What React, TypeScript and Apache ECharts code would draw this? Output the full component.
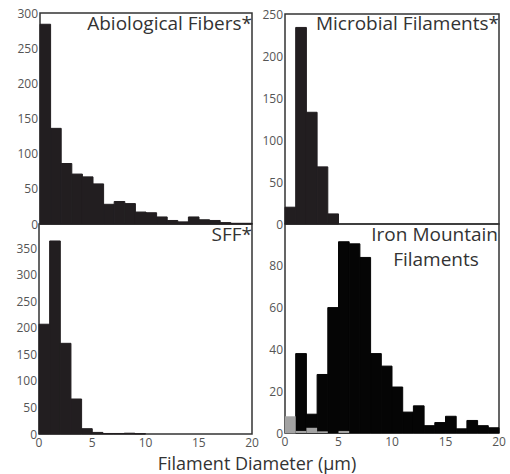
import React, { useEffect, useRef } from "react";
import * as echarts from "echarts";

const binEdges = [0, 1, 2, 3, 4, 5, 6, 7, 8, 9, 10, 11, 12, 13, 14, 15, 16, 17, 18, 19, 20];
const xTicks = [0, 5, 10, 15, 20];

const abiological = [284, 136, 86, 71, 67, 57, 28, 32, 29, 17, 16, 10, 5, 3, 10, 6, 5, 2, 1, 1];
const microbial = [20, 234, 133, 68, 12, 0, 0, 0, 0, 0, 0, 0, 0, 0, 0, 0, 0, 0, 0, 0];
const sff = [207, 364, 171, 66, 10, 3, 1, 1, 1.5, 0.5, 0, 0, 0, 0, 0, 0, 0, 0, 0, 0];
const ironBlack = [0, 38, 9, 28, 60, 91.5, 90.5, 84, 38, 32, 22, 10, 13, 3.5, 5, 8, 2, 6, 3.5, 2.5];
const ironGray = [8, 1, 2.5, 0.8, 0, 1, 0, 0, 0, 0, 0, 0, 0, 0, 0, 0, 0, 0, 0, 0];

const panelTitles = ["Abiological Fibers*", "Microbial Filaments*", "SFF*", "Iron Mountain", "Filaments"];
const xTitle = "Filament Diameter (µm)";

const FONT = "'Open Sans', 'Noto Sans', sans-serif";

function toBins(values: number[]) {
  return values.map((v, i) => [binEdges[i], binEdges[i + 1], v]);
}

function histSeries(idx: number, values: number[], color: string, inset = 0, stroke = true) {
  return {
    type: "custom",
    xAxisIndex: idx,
    yAxisIndex: idx,
    data: toBins(values),
    encode: { x: [0, 1], y: 2 },
    renderItem: (params: any, api: any) => {
      const v = api.value(2);
      if (!v) return null;
      const p0 = api.coord([api.value(0), v]);
      const p1 = api.coord([api.value(1), 0]);
      return {
        type: "rect",
        shape: { x: p0[0] + inset, y: p0[1], width: p1[0] - p0[0] - inset * 2, height: p1[1] - p0[1] },
        style: stroke ? { fill: color, stroke: color, lineWidth: 1 } : { fill: color },
      };
    },
  };
}

export default function App() {
  const ref = useRef<HTMLDivElement>(null);
  useEffect(() => {
    if (!ref.current) return;
    const chart = echarts.init(ref.current, null, { renderer: "svg" });
    const grids = [
      { left: 40, top: 13, width: 212, height: 211 },
      { left: 285, top: 14, width: 214, height: 210 },
      { left: 39, top: 224, width: 213, height: 210 },
      { left: 285, top: 224, width: 214, height: 209 },
    ].map((g) => ({ ...g, show: true, borderColor: "#333", borderWidth: 1.5, backgroundColor: "transparent" }));
    const yMax = [300, 250, 396, 100];
    const yInt = [50, 50, 50, 20];
    const xAxis = grids.map((_, i) => ({
      type: "value",
      gridIndex: i,
      min: xTicks[0],
      max: xTicks[xTicks.length - 1],
      interval: 5,
      axisLine: { show: false },
      axisTick: { show: false },
      splitLine: { show: false },
      axisLabel: { show: i >= 2, color: "#555", fontSize: 12, fontFamily: FONT, margin: 2 },
    }));
    const yAxis = grids.map((_, i) => ({
      type: "value",
      gridIndex: i,
      min: 0,
      max: yMax[i],
      interval: yInt[i],
      axisLine: { show: false },
      axisTick: { show: false },
      splitLine: { show: false },
      axisLabel: {
        color: "#555",
        fontSize: 12,
        fontFamily: FONT,
        margin: 2,
        showMaxLabel: i < 2,
      },
    }));
    const titleStyle = { fill: "#333", fontSize: 19, fontFamily: FONT };
    chart.setOption({
      animation: false,
      grid: grids,
      xAxis,
      yAxis,
      series: [
        histSeries(0, abiological, "#221e20"),
        histSeries(1, microbial, "#221e20"),
        histSeries(2, sff, "#221e20"),
        histSeries(3, ironBlack, "#050505"),
        histSeries(3, ironGray, "#a3a3a3", 0, false),
      ],
      graphic: [
        { type: "text", x: 252, y: 13, style: { ...titleStyle, text: panelTitles[0], textAlign: "right", textVerticalAlign: "top" } },
        { type: "text", x: 499, y: 13, style: { ...titleStyle, text: panelTitles[1], textAlign: "right", textVerticalAlign: "top" } },
        { type: "text", x: 252, y: 224, style: { ...titleStyle, text: panelTitles[2], textAlign: "right", textVerticalAlign: "top" } },
        { type: "text", x: 498, y: 224, style: { ...titleStyle, text: panelTitles[3], textAlign: "right", textVerticalAlign: "top" } },
        { type: "text", x: 436, y: 249, style: { ...titleStyle, text: panelTitles[4], textAlign: "center", textVerticalAlign: "top" } },
        { type: "text", x: 257, y: 463, style: { fill: "#333", fontSize: 18, fontFamily: FONT, text: xTitle, textAlign: "center", textVerticalAlign: "middle" } },
      ],
    });
    return () => chart.dispose();
  }, []);
  return <div ref={ref} style={{ width: 510, height: 474, position: "absolute", left: 0, top: 0, background: "#fff" }} />;
}
